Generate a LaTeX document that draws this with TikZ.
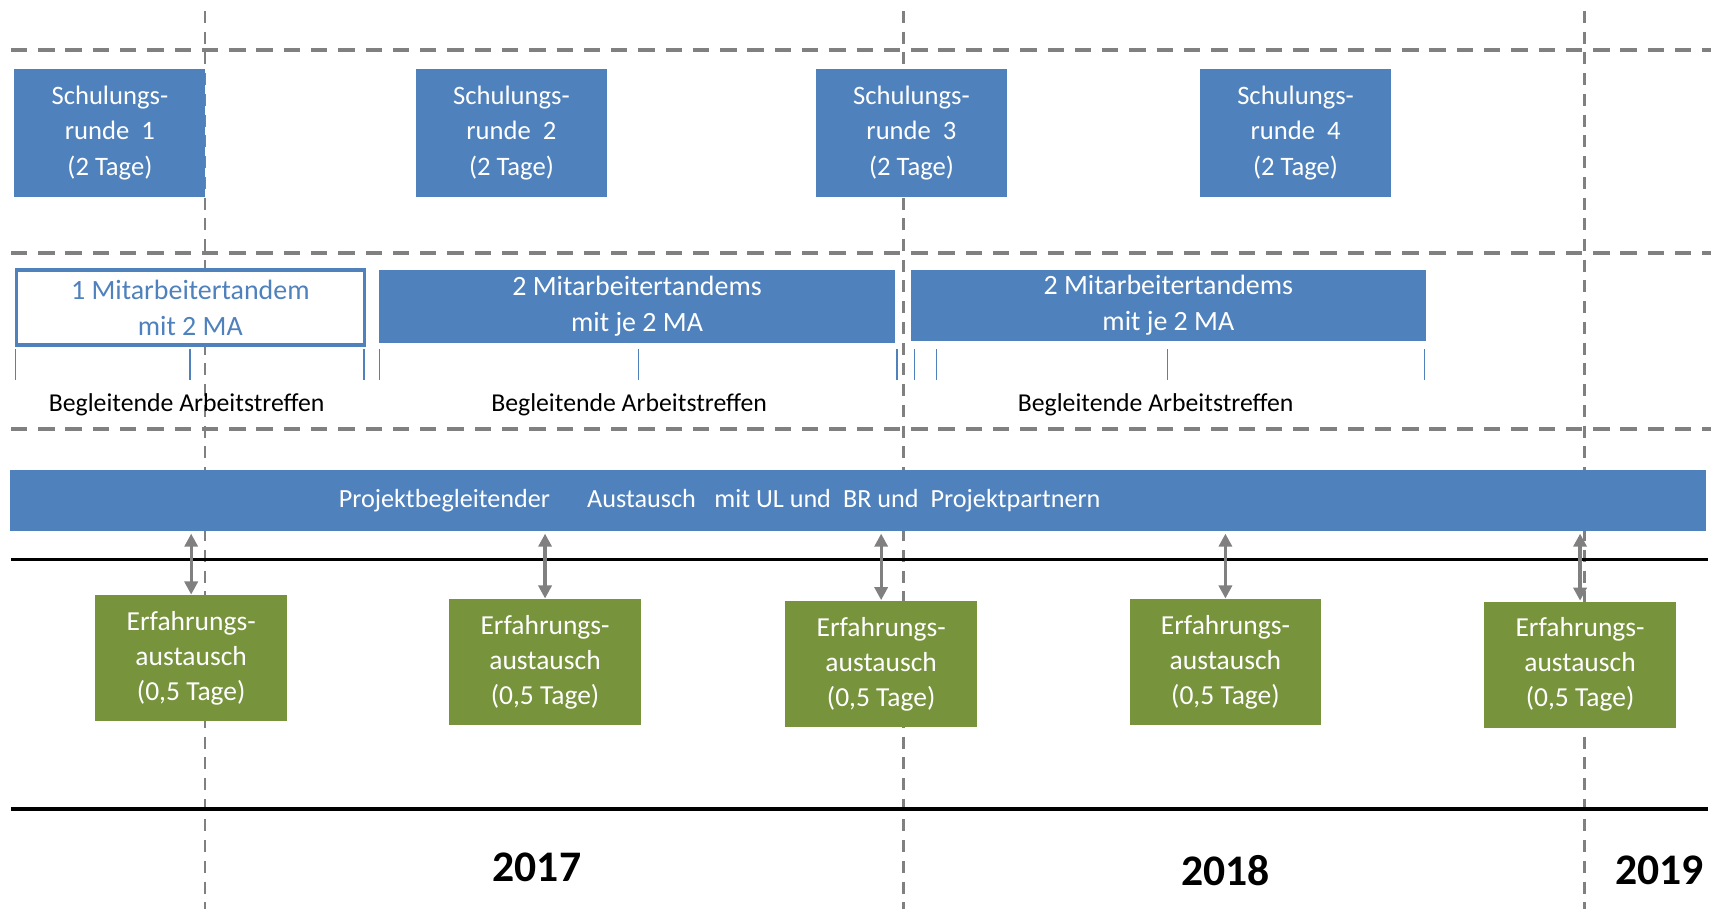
\documentclass[tikz,border=0pt]{standalone}
\usepackage{fontspec}
\setmainfont{Carlito}
\usetikzlibrary{arrows.meta}
\definecolor{boxblue}{RGB}{79,129,189}
\definecolor{boxgreen}{RGB}{119,147,60}
\definecolor{linegray}{RGB}{128,128,128}
\tikzset{every picture/.style={line width=0.75pt}}
\tikzset{
  schulbox/.style={fill=boxblue, text=white, minimum width=87.5pt, minimum height=58.5pt, inner sep=0pt, align=center, font=\fontsize{12.2}{16.2}\selectfont},
  tandbox/.style={fill=boxblue, text=white, inner sep=0pt, align=center, font=\fontsize{12.8}{16.5}\selectfont},
  erfbox/.style={fill=boxgreen, text=white, minimum width=87.75pt, minimum height=57.75pt, inner sep=0pt, align=center, font=\fontsize{12.6}{16}\selectfont},
  begllbl/.style={text=black, inner sep=0pt, font=\fontsize{11.8}{14}\selectfont},
  yearlbl/.style={text=black, inner sep=0pt, font=\fontsize{20}{24}\selectfont\bfseries},
  hdash/.style={draw=linegray, line width=1.6pt, dash pattern=on 7.5pt off 5pt},
  vdash/.style={draw=linegray, line width=1.2pt, dash pattern=on 5.5pt off 4pt},
  tickln/.style={draw=boxblue, line width=0.6pt},
  dblarrow/.style={draw=linegray, line width=1.5pt, {Triangle[width=6pt,length=6pt]}-{Triangle[width=6pt,length=6pt]}}
}

\begin{document}
\begin{tikzpicture}[x=0.5pt,y=0.5pt,yscale=-1,xscale=1]
	\useasboundingbox (0,0) rectangle (1568,833);

	%Straight Lines: year borders
	\foreach \vx in {188,828,1452}
		\draw [vdash] (\vx,10) -- (\vx,833) ;
	%Straight Lines: row borders
	\foreach \hy in {46,232,393}
		\draw [hdash] (10,\hy) -- (1568,\hy) ;
	\draw [line width=1.5pt] (10,512.5) -- (1565,512.5) ;
	\draw [line width=1.5pt] (10,741.5) -- (1565,741.5) ;

	%Shape: Rectangle
	\node [schulbox] (schul1) at (100.7,121.7) {Schulungs-\\runde~~1\\(2 Tage)};
	\node [schulbox] (schul2) at (468.7,121.7) {Schulungs-\\runde~~2\\(2 Tage)};
	\node [schulbox] (schul3) at (835.3,121.7) {Schulungs-\\runde~~3\\(2 Tage)};
	\node [schulbox] (schul4) at (1187.3,121.7) {Schulungs-\\runde~~4\\(2 Tage)};

	%Shape: Rectangle
	\node [tandbox, draw=boxblue, line width=1.5pt, fill=white, text=boxblue, minimum width=159.6pt, minimum height=34.3pt] (tand1) at (174.4,281.8) {1 Mitarbeitertandem\\mit 2 MA};
	\node [tandbox, minimum width=236.2pt, minimum height=33.3pt] (tand2) at (583.8,280.7) {2 Mitarbeitertandems\\mit je 2 MA};
	\node [tandbox, minimum width=235.7pt, minimum height=32.7pt] (tand3) at (1070.7,279.7) {2 Mitarbeitertandems\\mit je 2 MA};

	%Straight Lines: meeting marks
	\foreach \tx in {14.4,174,333.6,347.6,585,822,838,858,1070,1305.5}
		\draw [tickln] (\tx,320) -- (\tx,348) ;

	% Text Node
	\node [begllbl] (begl1) at (171,371) {Begleitende Arbeitstreffen};
	\node [begllbl] (begl2) at (576.5,371) {Begleitende Arbeitstreffen};
	\node [begllbl] (begl3) at (1059,371) {Begleitende Arbeitstreffen};

	%Shape: Rectangle
	\node [fill=boxblue, inner sep=0pt, minimum width=776.75pt, minimum height=28pt] (bar) at (786.3,458.3) {};
	% Text Node
	\node [text=white, inner sep=0pt, font=\fontsize{12}{14}\selectfont] (bartxt) at (659.5,459) {Projektbegleitender\hspace{17pt}Austausch\hspace{8.5pt}mit UL und\hspace{5.5pt}BR und\hspace{5.5pt}Projektpartnern};

	%Shape: Rectangle
	\node [erfbox] (erf1) at (175.2,603.4) {Erfahrungs-\\austausch\\(0,5 Tage)};
	\node [erfbox] (erf2) at (499.5,607) {Erfahrungs-\\austausch\\(0,5 Tage)};
	\node [erfbox] (erf3) at (807.5,608.5) {Erfahrungs-\\austausch\\(0,5 Tage)};
	\node [erfbox] (erf4) at (1123,607) {Erfahrungs-\\austausch\\(0,5 Tage)};
	\node [erfbox] (erf5) at (1448,609) {Erfahrungs-\\austausch\\(0,5 Tage)};

	%Straight Lines: exchange arrows
	\foreach \e in {erf1,erf2,erf3,erf4,erf5}
		\draw [dblarrow, shorten >=1pt] (\e.north) -- (\e.north |- bar.south) ;

	% Text Node
	\node [yearlbl] (y2017) at (492,795) {2017};
	\node [yearlbl] (y2018) at (1123,798) {2018};
	\node [yearlbl] (y2019) at (1521,798) {2019};

\end{tikzpicture}
\end{document}
